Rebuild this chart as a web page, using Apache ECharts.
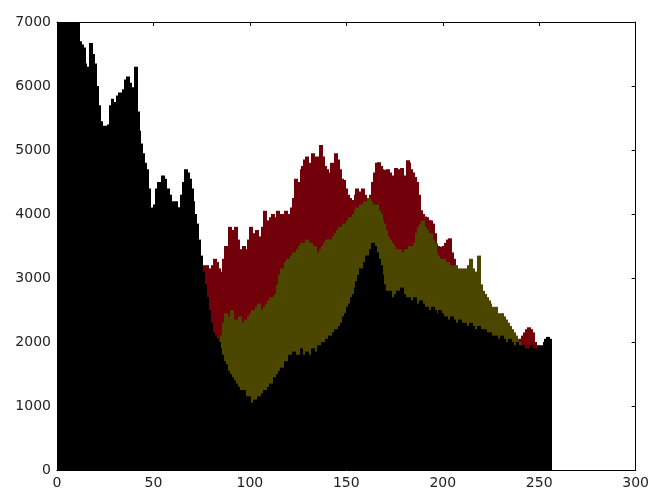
<!DOCTYPE html>
<html>
<head>
<meta charset="utf-8">
<script src="https://cdn.jsdelivr.net/npm/echarts@6/dist/echarts.min.js"></script>
<style>
  html, body { margin: 0; padding: 0; background: #fff; }
  #chart { width: 652px; height: 493px; }
</style>
</head>
<body>
<div id="chart"></div>
<script>
// histogram counts per bin (bins 0..255)
var redCounts = [
  2100, 2300, 2500, 2600, 2700, 2650, 2800, 2900, 2850, 3000,
  3100, 3050, 3150, 3200, 3100, 3250, 3300, 3200, 3150, 3100,
  3000, 3050, 3100, 3000, 2950, 3050, 3100, 3000, 3050, 2950,
  3000, 3050, 2900, 2950, 3000, 2900, 2950, 3000, 2850, 2900,
  2950, 2900, 2850, 2800, 2900, 2850, 2800, 2750, 2850, 2800,
  2900, 2850, 2800, 2900, 2950, 2900, 2850, 2950, 3000, 2950,
  3000, 3050, 2950, 3000, 3050, 3100, 3000, 3050, 3100, 3150,
  3100, 3150, 3200, 3150, 3250, 3200, 3150, 3200, 3100, 3150,
  3200, 3300, 3250, 3150, 2950, 3100, 3300, 3500, 3450, 3800,
  3750, 3700, 3800, 3600, 3450, 3400, 3500, 3350, 3450, 3600,
  3800, 3700, 3550, 3750, 3650, 3500, 3800, 4050, 3750, 3900,
  3950, 4000, 3900, 3950, 4050, 3900, 4000, 3950, 4050, 4000,
  3900, 4100, 4250, 4550, 4400, 4500, 4700, 4750, 4850, 4900,
  4800, 4750, 4950, 4850, 4900, 4800, 5080, 4900, 4750, 4700,
  4600, 4650, 4800, 4700, 4950, 4850, 4700, 4550, 4530, 4400,
  4300, 4250, 4220, 4150, 4300, 4400, 4350, 4200, 4400, 4300,
  4220, 4250, 4300, 4500, 4650, 4800, 4810, 4750, 4700, 4650,
  4690, 4700, 4650, 4550, 4600, 4720, 4700, 4650, 4720, 4600,
  4550, 4840, 4800, 4700, 4650, 4580, 4500, 4300, 4060, 4000,
  3960, 3950, 3900, 3900, 3850, 3700, 3540, 3500, 3490, 3450,
  3500, 3550, 3600, 3620, 3400, 3300, 3120, 3000, 2950, 2900,
  2850, 2900, 2850, 2800, 2750, 2700, 2650, 2600, 2550, 2500,
  2450, 2400, 2350, 2300, 2250, 2200, 2150, 2100, 2050, 2000,
  2000, 1950, 1900, 1850, 1800, 1800, 1850, 1900, 1950, 2000,
  2050, 2100, 2150, 2200, 2230, 2200, 2150, 2000, 1900, 1850,
  1800, 1750, 1700, 1700, 1650, 1600
];

var yellowCounts = [
  1500, 1700, 1900, 2000, 2100, 2050, 2200, 2300, 2250, 2400,
  2450, 2400, 2500, 2550, 2450, 2500, 2600, 2550, 2500, 2450,
  2400, 2450, 2500, 2400, 2350, 2450, 2500, 2400, 2450, 2350,
  2400, 2450, 2300, 2350, 2400, 2300, 2350, 2400, 2250, 2300,
  2350, 2300, 2250, 2200, 2300, 2250, 2200, 2150, 2250, 2200,
  2300, 2250, 2200, 2300, 2350, 2300, 2250, 2350, 2400, 2350,
  2300, 2350, 2250, 2300, 2350, 2400, 2300, 2350, 2300, 2250,
  2200, 2150, 2100, 2050, 1800, 1700, 1600, 1500, 1450, 1400,
  1500, 1600, 1700, 1800, 1850, 2100, 2300, 2450, 2200, 2400,
  2500, 2300, 2350, 2200, 2400, 2250, 2300, 2350, 2200, 2400,
  2450, 2500, 2400, 2550, 2600, 2500, 2450, 2550, 2600, 2650,
  2700, 2650, 2700, 2750, 2900, 3050, 3150, 3000, 3250, 3300,
  3200, 3350, 3400, 3300, 3450, 3500, 3550, 3450, 3550, 3600,
  3500, 3550, 3450, 3500, 3400, 3350, 3450, 3500, 3550, 3600,
  3500, 3600, 3550, 3650, 3700, 3750, 3800, 3700, 3850, 3800,
  3900, 3950, 3900, 4000, 4050, 4100, 4050, 4150, 4100, 4200,
  4150, 4250, 4200, 4150, 4100, 4150, 4050, 4000, 3900, 3850,
  3750, 3650, 3600, 3550, 3500, 3450, 3400, 3450, 3350, 3400,
  3450, 3450, 3500, 3400, 3500, 3550, 3700, 3800, 3850, 3900,
  3800, 3750, 3650, 3700, 3600, 3550, 3400, 3350, 3300, 3250,
  3300, 3200, 3250, 3150, 3200, 3150, 3200, 3100, 3150, 3100,
  3150, 3100, 3150, 3200, 3300, 3150, 3100, 3050, 3350, 2900,
  2800, 2750, 2700, 2650, 2600, 2550, 2500, 2550, 2450, 2400,
  2450, 2400, 2350, 2300, 2250, 2200, 2150, 2100, 2050, 2000,
  1950, 1900, 1850, 1800, 1850, 1800, 1750, 1800, 1750, 1700,
  1750, 1700, 1650, 1700, 1650, 1600
];

var blackCounts = [
  7800, 9200, 8600, 8100, 7700, 7900, 7500, 7700, 7300, 7200,
  7100, 6700, 6650, 6600, 6350, 6250, 6300, 6670, 6500, 6350,
  6000, 5700, 5450, 5350, 5380, 5350, 5400, 5700, 5800, 5750,
  5650, 5850, 5900, 5700, 5950, 6100, 6150, 6050, 5950, 5980,
  6300, 5600, 5300, 5100, 4950, 4800, 4700, 4400, 4100, 4050,
  4150, 4400, 4500, 4300, 4600, 4550, 4350, 4400, 4300, 4200,
  4150, 4200, 4100, 4100, 4300, 4500, 4700, 4650, 4550, 4400,
  4200, 4000, 3850, 3600, 3350, 3100, 2900, 2700, 2500, 2300,
  2150, 2100, 2050, 2000, 1900, 1800, 1700, 1650, 1550, 1500,
  1450, 1400, 1350, 1300, 1250, 1200, 1250, 1150, 1100, 1150,
  1050, 1000, 1100, 1050, 1150, 1100, 1200, 1250, 1200, 1300,
  1350, 1300, 1450, 1350, 1500, 1550, 1600, 1550, 1700, 1650,
  1800, 1750, 1850, 1700, 1800, 1750, 1900, 1800, 1700, 1850,
  1750, 1800, 1900, 1850, 1750, 1950, 1900, 2000, 1950, 2050,
  2000, 2100, 2050, 2150, 2200, 2150, 2250, 2300, 2400, 2450,
  2550, 2600, 2700, 2750, 2850, 2950, 3050, 3150, 3100, 3250,
  3350, 3350, 3450, 3550, 3500, 3400, 3300, 3200, 3050, 2900,
  2800, 2750, 2800, 2700, 2650, 2750, 2800, 2700, 2850, 2750,
  2700, 2650, 2700, 2600, 2650, 2700, 2600, 2550, 2650, 2600,
  2500, 2550, 2500, 2450, 2550, 2500, 2450, 2400, 2500, 2450,
  2350, 2400, 2350, 2300, 2400, 2350, 2300, 2250, 2350, 2300,
  2250, 2300, 2250, 2200, 2300, 2250, 2200, 2150, 2250, 2200,
  2150, 2200, 2150, 2100, 2150, 2100, 2050, 2100, 2050, 2000,
  2100, 2050, 2000, 1950, 2050, 2000, 1950, 1900, 2000, 1950,
  1900, 1950, 1900, 1850, 1900, 1950, 1900, 1850, 1900, 1950,
  1900, 1950, 2000, 2050, 2080, 2050
];

var xTicks = [0, 50, 100, 150, 200, 250, 300];
var yTicks = [0, 1000, 2000, 3000, 4000, 5000, 6000, 7000];

// each bin i covers [i, i+1)
function toBins(counts) {
  var out = [];
  for (var i = 0; i < counts.length; i++) {
    out.push([i, i + 1, counts[i]]);
  }
  return out;
}

var chart = echarts.init(document.getElementById('chart'));
var labelStyle = { color: '#222', fontFamily: 'DejaVu Sans', fontSize: 14 };

function frameX(pos, showLabel) {
  return {
    type: 'value', position: pos, min: xTicks[0], max: xTicks[xTicks.length - 1], interval: 50,
    axisLine: { show: true, onZero: false, lineStyle: { color: '#000', width: 1 } },
    axisTick: { show: true, inside: true, length: 4, lineStyle: { color: '#000' } },
    axisLabel: showLabel ? Object.assign({ margin: 6 }, labelStyle) : { show: false },
    splitLine: { show: false }
  };
}
function frameY(pos, showLabel) {
  return {
    type: 'value', position: pos, min: yTicks[0], max: yTicks[yTicks.length - 1], interval: 1000,
    axisLine: { show: true, onZero: false, lineStyle: { color: '#000', width: 1 } },
    axisTick: { show: true, inside: true, length: 4, lineStyle: { color: '#000' } },
    axisLabel: showLabel ? Object.assign({ margin: 6, formatter: function (v) { return String(v); } }, labelStyle) : { show: false },
    splitLine: { show: false }
  };
}

function renderBin(params, api) {
  var p0 = api.coord([api.value(0), 0]);
  var p1 = api.coord([api.value(1), api.value(2)]);
  var cs = params.coordSys;
  // snap to whole pixels and overlap the next bin so no seams show
  var x0 = Math.floor(p0[0]);
  var rect = echarts.graphic.clipRectByRect({
    x: x0, y: p1[1], width: Math.ceil(p1[0]) - x0 + 1, height: p0[1] - p1[1]
  }, { x: cs.x, y: cs.y, width: cs.width, height: cs.height });
  if (!rect) return null;
  return { type: 'rect', shape: rect, style: { fill: api.visual('color') } };
}

function histSeries(name, counts, color, z) {
  return {
    name: name,
    type: 'custom',
    renderItem: renderBin,
    data: toBins(counts),
    encode: { x: [0, 1], y: 2 },
    itemStyle: { color: color },
    z: z,
    silent: true,
    animation: false
  };
}

chart.setOption({
  backgroundColor: '#fff',
  animation: false,
  grid: { left: 57, right: 15, top: 22, bottom: 23 },
  xAxis: [frameX('bottom', true), frameX('top', false)],
  yAxis: [frameY('left', true), frameY('right', false)],
  series: [
    histSeries('r', redCounts, '#72000a', 2),
    histSeries('y', yellowCounts, '#4c4700', 3),
    histSeries('k', blackCounts, '#000000', 4)
  ]
});
</script>
</body>
</html>
